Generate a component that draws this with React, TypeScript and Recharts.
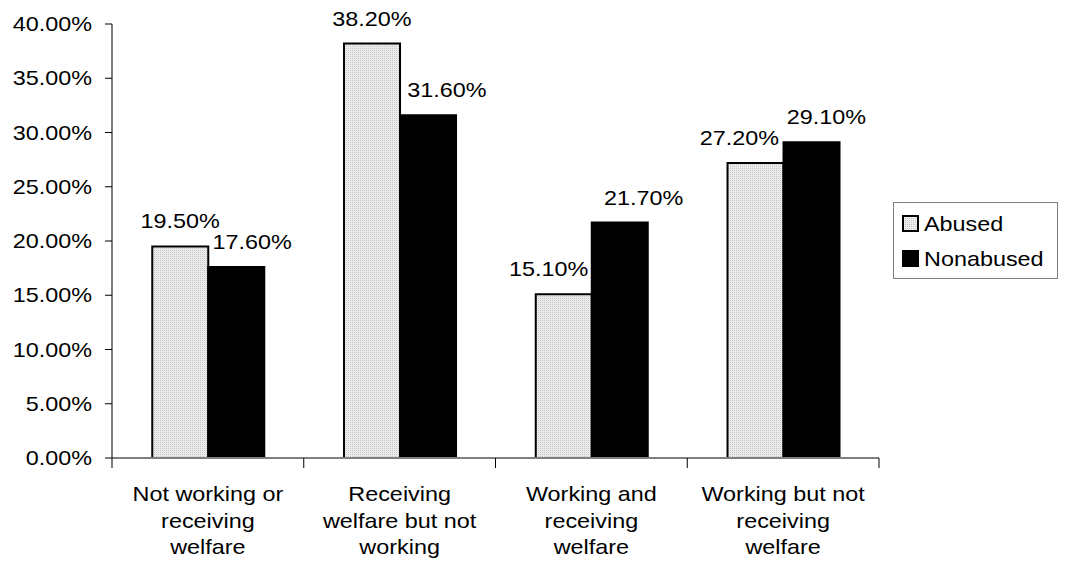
import React from "react";
import { BarChart, Bar, XAxis, YAxis, LabelList, Legend } from "recharts";

const CATEGORY_LINES: string[][] = [
  ["Not working or", "receiving", "welfare"],
  ["Receiving", "welfare but not", "working"],
  ["Working and", "receiving", "welfare"],
  ["Working but not", "receiving", "welfare"],
];
const SERIES_NAMES = ["Abused", "Nonabused"];
const ABUSED = [19.5, 38.2, 15.1, 27.2];
const NONABUSED = [17.6, 31.6, 21.7, 29.1];
const Y_TICKS = [0, 5, 10, 15, 20, 25, 30, 35, 40];

const ABUSED_LABEL_DX = [0, 0, -15, -16];
const NONABUSED_LABEL_DX = [16, 19, 24, 15];

const FONT = "'Liberation Sans', Arial, sans-serif";
const SX = 1.17;

const data = CATEGORY_LINES.map((lines, i) => ({
  cat: i,
  abused: ABUSED[i],
  nonabused: NONABUSED[i],
}));

const fmt = (v: number) => v.toFixed(2) + "%";

const YTick = (props: any) => {
  const { x, y, payload } = props;
  return (
    <text transform={`translate(${x},${y}) scale(${SX},1)`} textAnchor="end" dy={7} fontSize={20} fontFamily={FONT} fill="#000">
      {fmt(payload.value)}
    </text>
  );
};

const XTick = (props: any) => {
  const { x, y, payload, visibleTicksCount } = props;
  const idx = payload.index ?? payload.value;
  const lines = CATEGORY_LINES[idx] || [];
  const half = typeof payload.offset === "number" ? payload.offset : 0;
  const isLast = idx === (visibleTicksCount ?? CATEGORY_LINES.length) - 1;
  return (
    <g transform={`translate(${x},${y})`}>
      {half > 0 && <line x1={-half} x2={-half} y1={0} y2={10} stroke="#000" strokeWidth={1} />}
      {half > 0 && isLast && <line x1={half} x2={half} y1={0} y2={10} stroke="#000" strokeWidth={1} />}
      {lines.map((l, i) => (
        <text key={i} transform={`translate(0,${43 + i * 26.5}) scale(${SX},1)`} textAnchor="middle" fontSize={20} fontFamily={FONT} fill="#000">
          {l}
        </text>
      ))}
    </g>
  );
};

const makeLabel = (dxs: number[]) => (props: any) => {
  const { x, y, width, value, index } = props;
  const cx = x + width / 2 + (dxs[index] || 0);
  return (
    <text transform={`translate(${cx},${y - 18}) scale(${SX},1)`} textAnchor="middle" fontSize={20} fontFamily={FONT} fill="#000">
      {fmt(value)}
    </text>
  );
};

const LegendBox = () => (
  <svg width={165} height={77} style={{ display: "block" }}>
    <rect x={0.5} y={0.5} width={164} height={76} fill="#fff" stroke="#808080" strokeWidth={1} />
    {SERIES_NAMES.map((name, i) => {
      const cy = 21 + i * 35;
      return (
        <g key={name}>
          <rect x={10} y={cy - 7} width={15} height={15} fill={i === 0 ? "url(#dots)" : "#000"} stroke="#000" strokeWidth={2} />
          <text transform={`translate(31,${cy + 8}) scale(${SX},1)`} fontSize={20} fontFamily={FONT} fill="#000">
            {name}
          </text>
        </g>
      );
    })}
  </svg>
);

export default function App() {
  return (
    <div style={{ position: "relative", width: 1060, height: 563 }}>
      <svg width={0} height={0} style={{ position: "absolute" }}>
        <defs>
          <pattern id="dots" width={2} height={2} patternUnits="userSpaceOnUse">
            <rect x={0} y={0} width={2} height={2} fill="#ececec" />
            <rect x={0} y={0} width={1} height={1} fill="#c4c4c4" />
          </pattern>
        </defs>
      </svg>
      <BarChart width={1060} height={563} data={data} margin={{ top: 16, right: 189, bottom: 0, left: 0 }} barCategoryGap="21%" barGap={0}>
        <XAxis
          dataKey="cat"
          type="category"
          height={113}
          axisLine={{ stroke: "#808080", strokeWidth: 2 }}
          tickLine={false}
          tickSize={0}
          tickMargin={0}
          interval={0}
          tick={<XTick />}
        />
        <YAxis
          width={104}
          domain={[0, 40]}
          ticks={Y_TICKS}
          interval={0}
          tickSize={7}
          tickMargin={13}
          axisLine={{ stroke: "#000", strokeWidth: 1 }}
          tickLine={{ stroke: "#000", strokeWidth: 1 }}
          tick={<YTick />}
        />
        <Legend layout="vertical" align="center" verticalAlign="middle" wrapperStyle={{ left: 885, top: 194, width: 165, height: 77 }} content={() => <LegendBox />} />
        <Bar dataKey="abused" name={SERIES_NAMES[0]} fill="url(#dots)" stroke="#000" strokeWidth={2} isAnimationActive={false}>
          <LabelList dataKey="abused" content={makeLabel(ABUSED_LABEL_DX)} />
        </Bar>
        <Bar dataKey="nonabused" name={SERIES_NAMES[1]} fill="#000" stroke="#000" strokeWidth={2} isAnimationActive={false}>
          <LabelList dataKey="nonabused" content={makeLabel(NONABUSED_LABEL_DX)} />
        </Bar>
      </BarChart>
    </div>
  );
}
